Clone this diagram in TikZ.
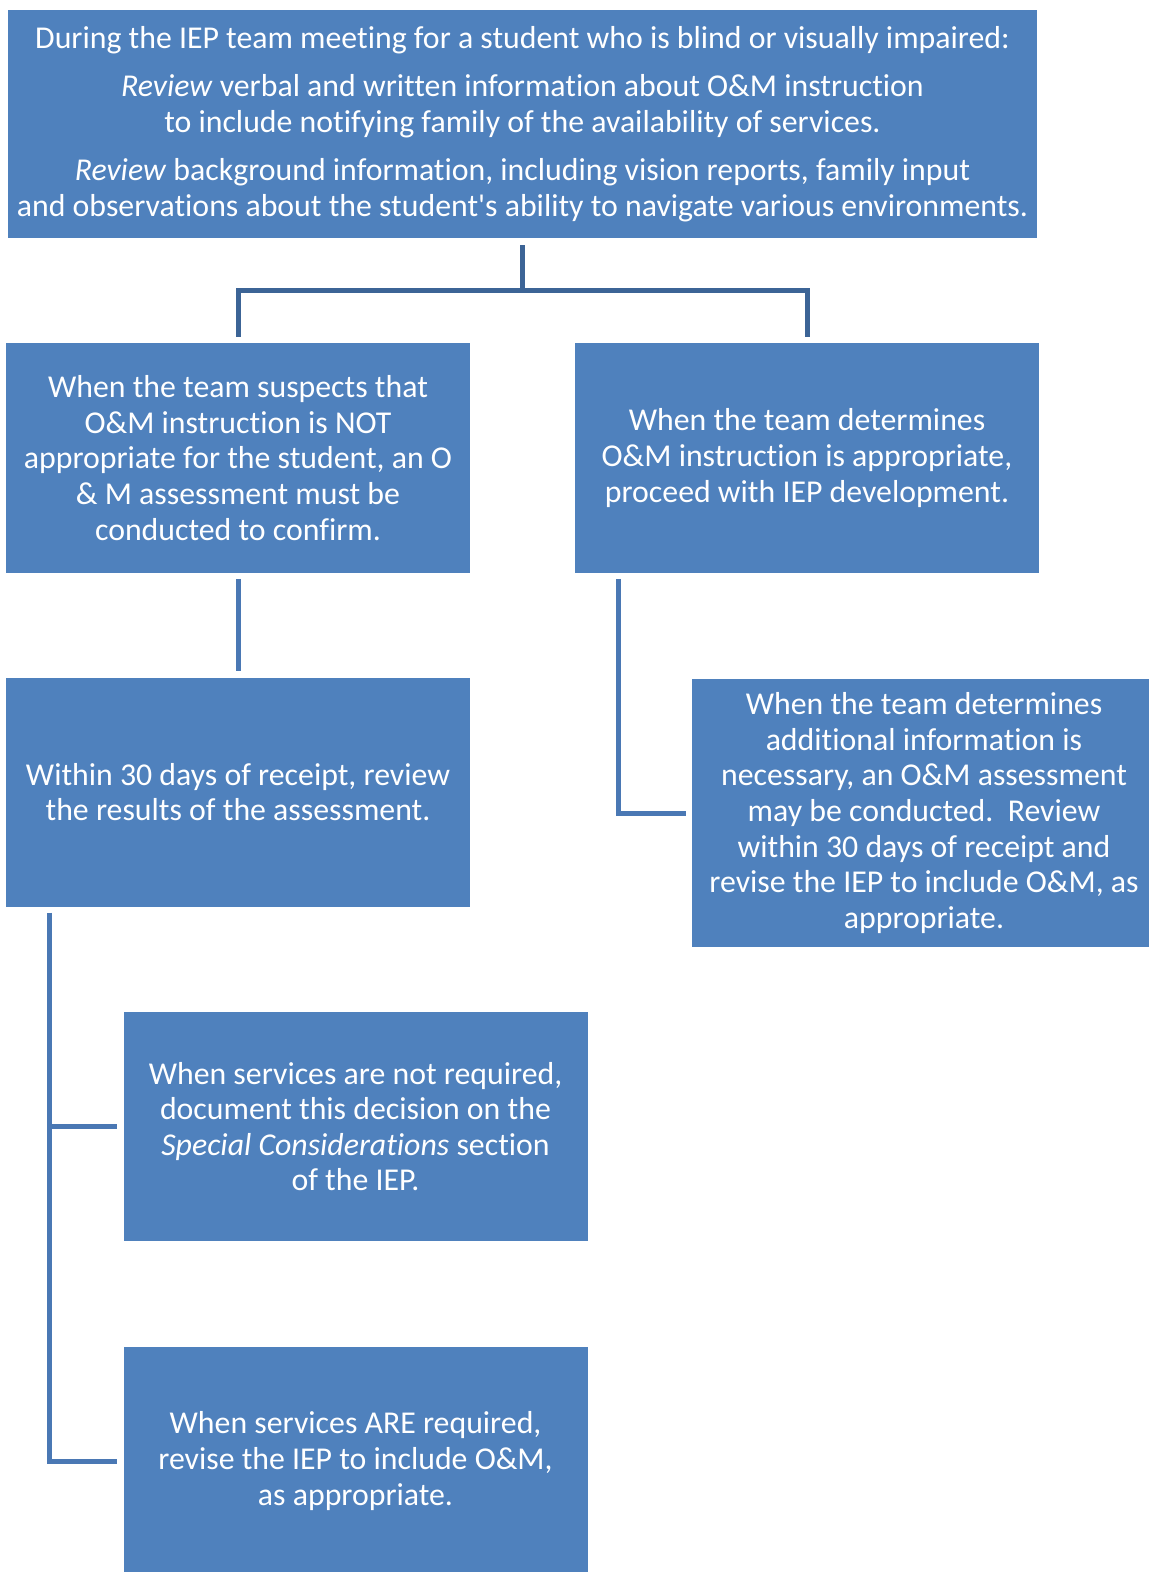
\documentclass[tikz,border=0pt]{standalone}
\usepackage{fontspec}
\setmainfont{Carlito}[Ligatures={TeXOff,CommonOff}]
\usepackage{tikz}
\usetikzlibrary{positioning}

\definecolor{boxblue}{HTML}{4F81BD}
\definecolor{linkdark}{HTML}{3C6496}
\definecolor{linkblue}{HTML}{4A78B4}

\tikzset{
  stepbox/.style={fill=boxblue, text=white, align=center, inner sep=0pt,
    minimum width=232pt, minimum height=114.5pt,
    font=\fontsize{15.9pt}{17.8pt}\selectfont},
  link/.style={draw=linkblue, line width=2.5pt, shorten <=3pt, shorten >=3pt},
}

\begin{document}
\begin{tikzpicture}[x=0.5pt, y=-0.5pt]
\useasboundingbox (0,0) rectangle (1148,1572);

% top box: the meeting
\node[stepbox, minimum width=514.5pt, minimum height=114pt] (meet) at (522.5,124)
  {During the IEP team meeting for a student who is blind or visually impaired:\\[6.5pt]
   \emph{Review} verbal and written information about O\&M instruction\\
   to include notifying family of the availability of services.\\[6.5pt]
   \emph{Review} background information, including vision reports, family input\\
   and observations about the student's ability to navigate various environments.};

% second row
\node[stepbox] (notok) at (238,458)
  {When the team suspects that\\ O\&M instruction is NOT\\ appropriate for the student, an O\\
   \& M assessment must be\\ conducted to confirm.};
\node[stepbox] (isok) at (807,458)
  {When the team determines\\ O\&M instruction is appropriate,\\ proceed with IEP development.};

% third row
\node[stepbox] (review) at (238,792)
  {Within 30 days of receipt, review\\ the results of the assessment.};
\node[stepbox, minimum height=134pt] (moreinfo) at (924,813)
  {When the team determines\\ additional information is\\ necessary, an O\&M assessment\\
   may be conducted.\ \ Review\\ within 30 days of receipt and\\
   revise the IEP to include O\&M, as\\ appropriate.};

% outcomes
\node[stepbox] (notreq) at (355.5,1126.5)
  {When services are not required,\\ document this decision on the\\
   \emph{Special Considerations} section\\ of the IEP.};
\node[stepbox] (req) at (355.5,1461)
  {When services ARE required,\\ revise the IEP to include O\&M,\\ as appropriate.};

% split below the meeting
\draw[link, draw=linkdark, shorten <=3.5pt] (meet.south) -- ++(0,52) -| (notok.north);
\draw[link, draw=linkdark, shorten <=3.5pt] (meet.south) -- ++(0,52) -| (isok.north);

% left branch
\draw[link] (notok.south) -- (review.north);
\draw[link] ([xshift=22pt]review.south west) |- (notreq.west);
\draw[link] ([xshift=22pt]review.south west) |- (req.west);

% right branch
\draw[link] ([xshift=22pt]isok.south west) |- (moreinfo.west);

\end{tikzpicture}
\end{document}
